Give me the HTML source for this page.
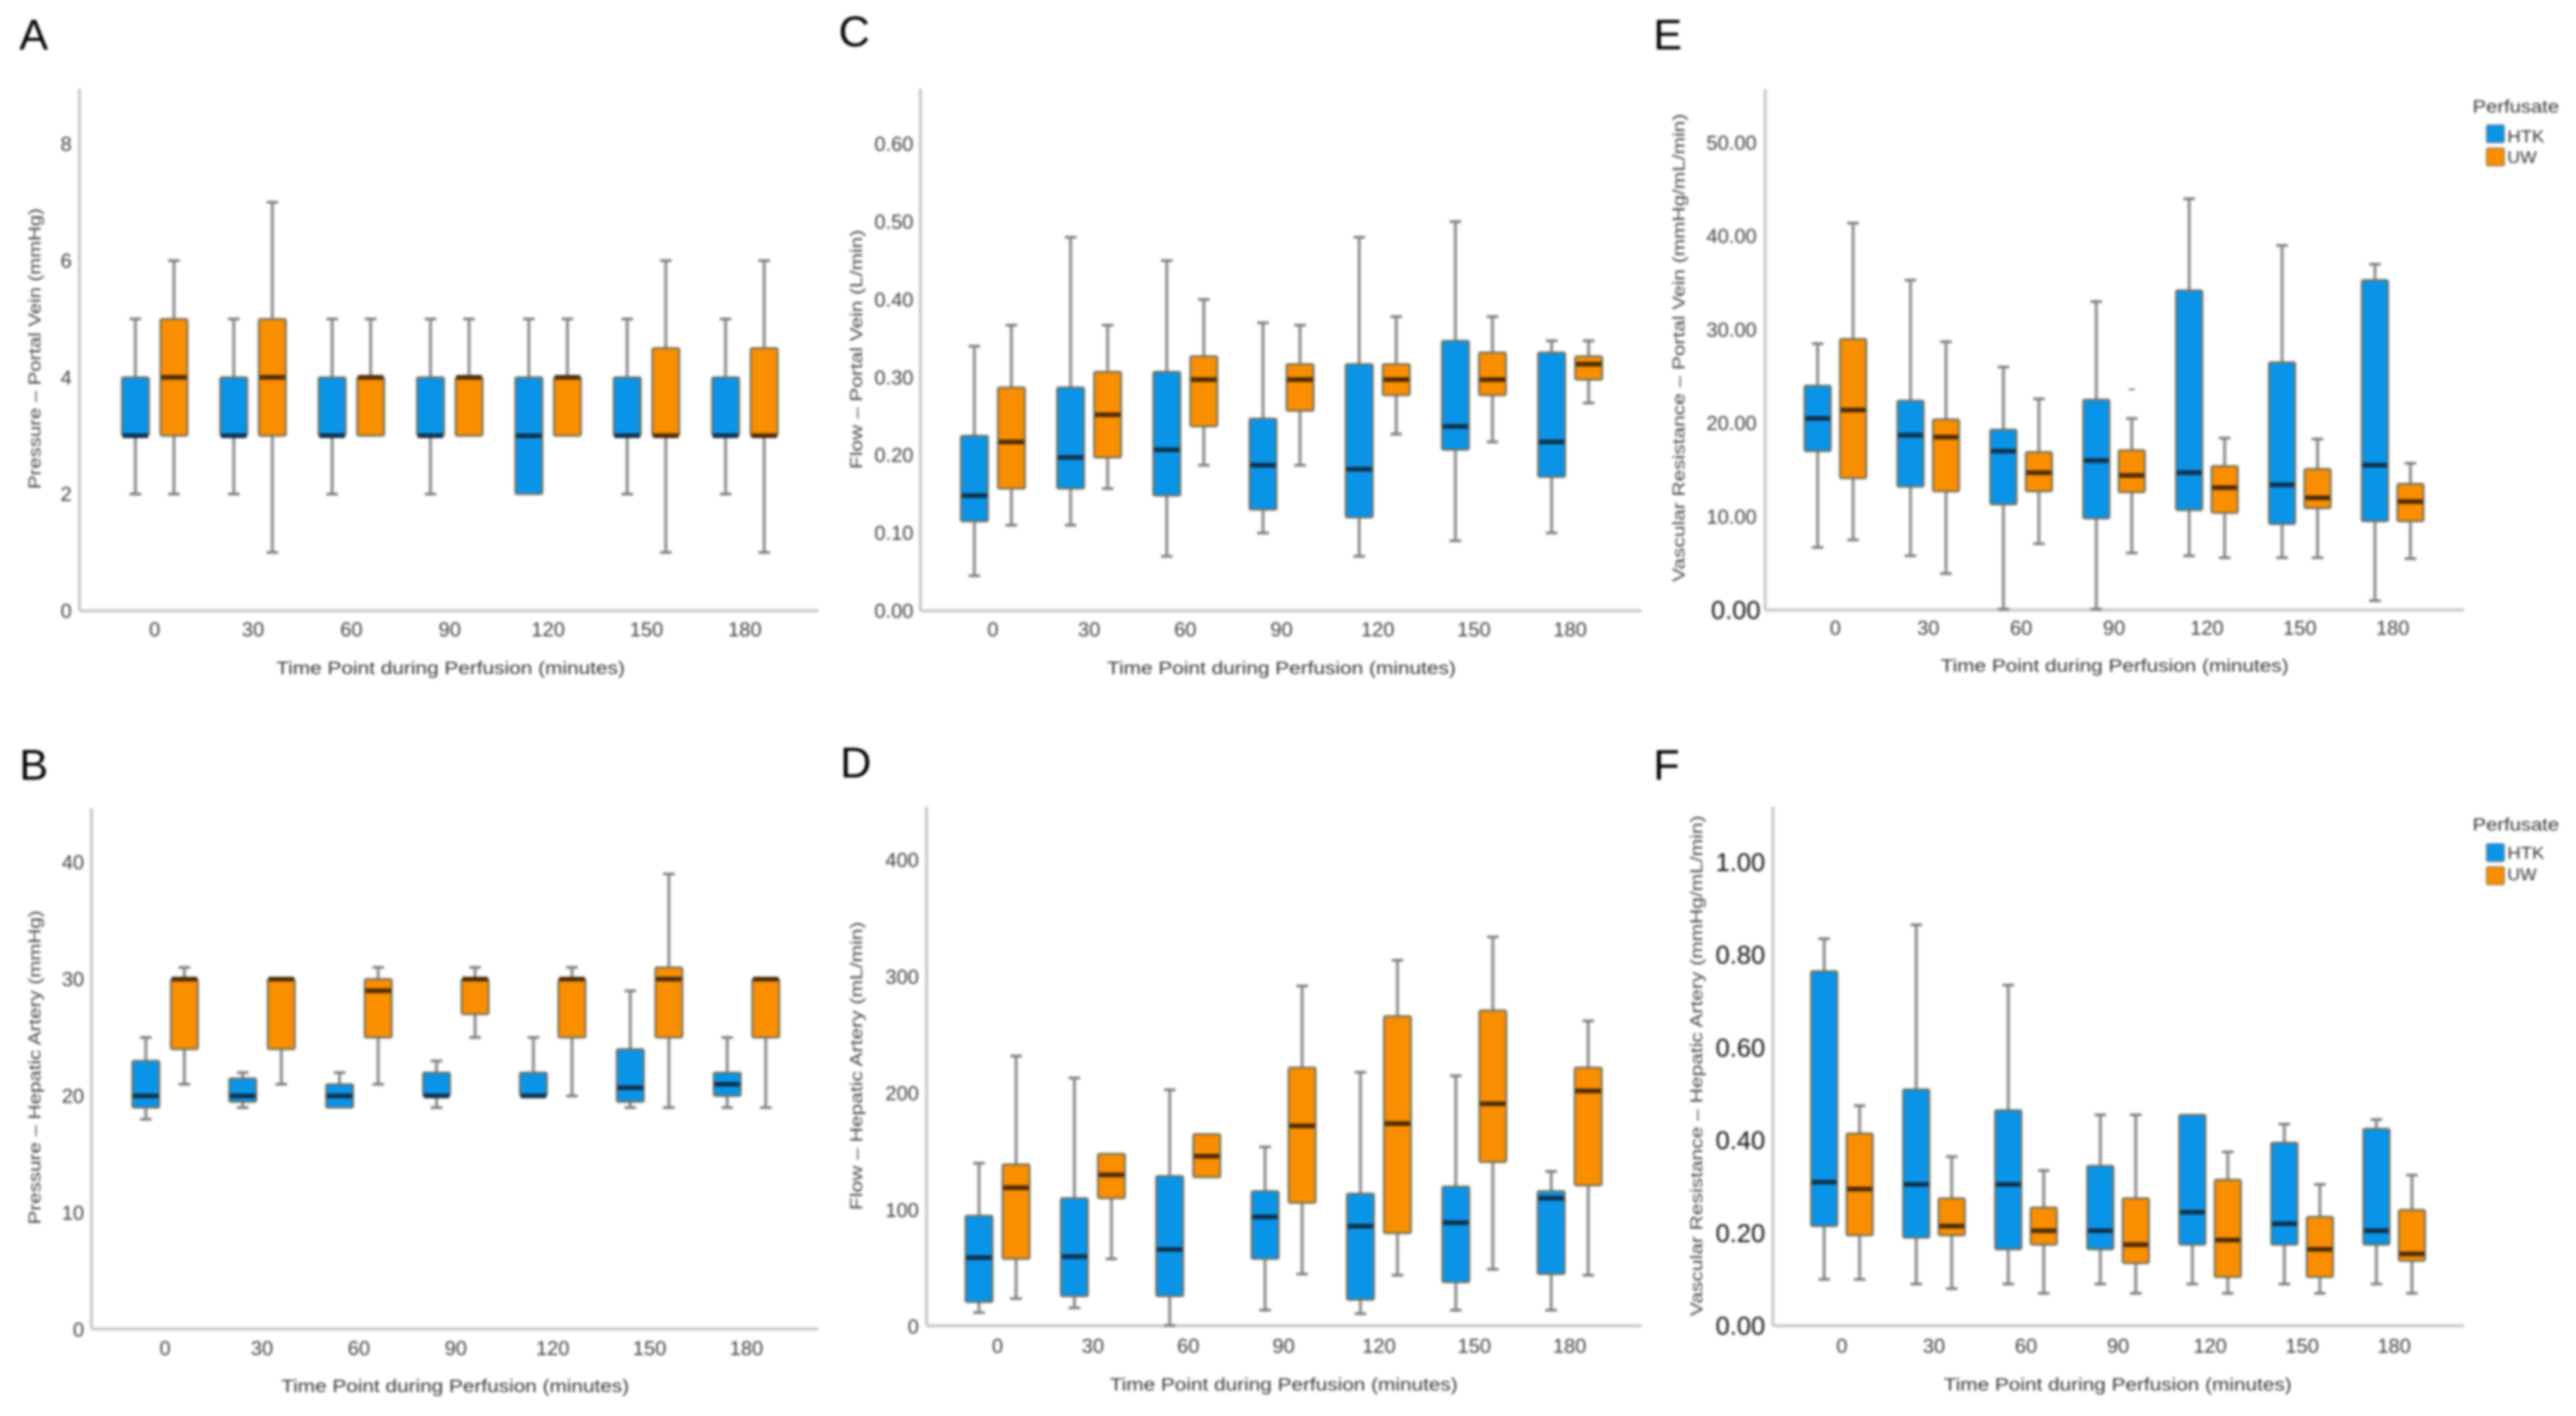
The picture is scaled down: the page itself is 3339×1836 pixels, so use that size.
<!DOCTYPE html>
<html lang="en">
<head>
<meta charset="utf-8">
<title>Perfusion box plots</title>
<style>
  html, body { margin: 0; padding: 0; background: #fff; width: 3339px; height: 1836px; overflow: hidden; }
  svg { display: block; filter: blur(1.7px); font-family: "Liberation Sans", sans-serif; }
  .letter { font-size: 56px; fill: #000; }
  .xt { font-size: 23px; fill: #333; text-anchor: middle; dominant-baseline: central; }
  .yt { font-size: 22px; fill: #444; text-anchor: middle; dominant-baseline: central; }
  .leg-title { font-size: 23px; fill: #333; dominant-baseline: central; }
  .leg-label { font-size: 22px; fill: #333; dominant-baseline: central; }
</style>
</head>
<body>
<svg id="figure" width="3339" height="1836" viewBox="0 0 3339 1836" xmlns="http://www.w3.org/2000/svg">
  <rect x="0" y="0" width="3339" height="1836" fill="#fff"/>

  <g id="panel-a">
    <text class="letter" x="25" y="64">A</text>
    <text class="yt" x="45" y="452" transform="rotate(-90 45 452)" textLength="364" lengthAdjust="spacingAndGlyphs">Pressure – Portal Vein (mmHg)</text>
    <text class="xt" x="584" y="866" textLength="452" lengthAdjust="spacingAndGlyphs">Time Point during Perfusion (minutes)</text>
  </g>

  <g id="panel-b">
    <text class="letter" x="25" y="1011">B</text>
    <text class="yt" x="45" y="1384" transform="rotate(-90 45 1384)" textLength="407" lengthAdjust="spacingAndGlyphs">Pressure – Hepatic Artery (mmHg)</text>
    <text class="xt" x="590" y="1797" textLength="451" lengthAdjust="spacingAndGlyphs">Time Point during Perfusion (minutes)</text>
  </g>

  <g id="panel-c">
    <text class="letter" x="1087" y="60">C</text>
    <text class="yt" x="1110" y="453" transform="rotate(-90 1110 453)" textLength="310" lengthAdjust="spacingAndGlyphs">Flow – Portal Vein (L/min)</text>
    <text class="xt" x="1661" y="866" textLength="452" lengthAdjust="spacingAndGlyphs">Time Point during Perfusion (minutes)</text>
  </g>

  <g id="panel-d">
    <text class="letter" x="1089" y="1008">D</text>
    <text class="yt" x="1110" y="1382" transform="rotate(-90 1110 1382)" textLength="374" lengthAdjust="spacingAndGlyphs">Flow – Hepatic Artery (mL/min)</text>
    <text class="xt" x="1664" y="1795" textLength="451" lengthAdjust="spacingAndGlyphs">Time Point during Perfusion (minutes)</text>
  </g>

  <g id="panel-e">
    <text class="letter" x="2143" y="64">E</text>
    <text class="yt" x="2176" y="451" transform="rotate(-90 2176 451)" textLength="607" lengthAdjust="spacingAndGlyphs">Vascular Resistance – Portal Vein (mmHg/mL/min)</text>
    <text class="xt" x="2741" y="863" textLength="451" lengthAdjust="spacingAndGlyphs">Time Point during Perfusion (minutes)</text>
    <g>
      <text class="leg-title" x="3205" y="138" textLength="112" lengthAdjust="spacingAndGlyphs">Perfusate</text>
      <rect x="3223" y="162" width="23" height="23" rx="2" fill="#0a94e8" stroke="#6f7f8a" stroke-width="1.5"/>
      <text class="leg-label" x="3250" y="177" textLength="48" lengthAdjust="spacingAndGlyphs">HTK</text>
      <rect x="3223" y="192" width="23" height="23" rx="2" fill="#f98e00" stroke="#8a7a60" stroke-width="1.5"/>
      <text class="leg-label" x="3250" y="204" textLength="38" lengthAdjust="spacingAndGlyphs">UW</text>
    </g>
  </g>

  <g id="panel-f">
    <text class="letter" x="2143" y="1011">F</text>
    <text class="yt" x="2199" y="1382" transform="rotate(-90 2199 1382)" textLength="649" lengthAdjust="spacingAndGlyphs">Vascular Resistance – Hepatic Artery (mmHg/mL/min)</text>
    <text class="xt" x="2745" y="1795" textLength="451" lengthAdjust="spacingAndGlyphs">Time Point during Perfusion (minutes)</text>
    <g>
      <text class="leg-title" x="3205" y="1069" textLength="112" lengthAdjust="spacingAndGlyphs">Perfusate</text>
      <rect x="3223" y="1094" width="23" height="23" rx="2" fill="#0a94e8" stroke="#6f7f8a" stroke-width="1.5"/>
      <text class="leg-label" x="3250" y="1106" textLength="48" lengthAdjust="spacingAndGlyphs">HTK</text>
      <rect x="3223" y="1124" width="23" height="23" rx="2" fill="#f98e00" stroke="#8a7a60" stroke-width="1.5"/>
      <text class="leg-label" x="3250" y="1134" textLength="38" lengthAdjust="spacingAndGlyphs">UW</text>
    </g>
  </g>
</svg>

<script>
// Shared category labels (time point, minutes)
const categories = ['0', '30', '60', '90', '120', '150', '180'];

// Each row: [whisker low, Q1, median, Q3, whisker high]
const aHTK = [[2,3,3,4,5],[2,3,3,4,5],[2,3,3,4,5],[2,3,3,4,5],[2,2,3,4,5],[2,3,3,4,5],[2,3,3,4,5]];
const aUW  = [[2,3,4,5,6],[1,3,4,5,7],[3,3,4,4,5],[3,3,4,4,5],[3,3,4,4,5],[1,3,3,4.5,6],[1,3,3,4.5,6]];
const aTicks = [0, 2, 4, 6, 8];

const bHTK = [[18,19,20,23,25],[19,19.5,20,21.5,22],[19,19,20,21,22],[19,20,20,22,23],[20,20,20,22,25],[19,19.5,20.7,24,29],[19,20,21,22,25]];
const bUW  = [[21,24,30,30,31],[21,24,30,30,30],[21,25,29,30,31],[25,27,30,30,31],[20,25,30,30,31],[19,25,30,31,39],[19,25,30,30,30]];
const bTicks = [0, 10, 20, 30, 40];

const cHTK = [[0.045,0.115,0.148,0.225,0.34],[0.11,0.157,0.197,0.287,0.48],[0.07,0.148,0.207,0.307,0.45],[0.10,0.13,0.187,0.247,0.37],[0.07,0.12,0.182,0.317,0.48],[0.09,0.207,0.237,0.347,0.50],[0.10,0.172,0.217,0.332,0.347]];
const cUW  = [[0.11,0.157,0.217,0.287,0.367],[0.157,0.197,0.252,0.307,0.367],[0.187,0.237,0.297,0.327,0.40],[0.187,0.257,0.297,0.317,0.367],[0.227,0.277,0.297,0.317,0.378],[0.217,0.277,0.297,0.332,0.378],[0.267,0.297,0.317,0.327,0.347]];
const cTicks = [0, 0.1, 0.2, 0.3, 0.4, 0.5, 0.6];

const dHTK = [[12,21,59,95,140],[16,26,60,110,213],[1,26,66,129,203],[14,58,94,116,154],[11,23,86,114,218],[14,38,89,120,215],[14,45,110,116,133]];
const dUW  = [[24,58,119,139,232],[58,110,130,148,148],[128,128,146,165,165],[45,106,172,222,292],[44,80,174,266,314],[49,141,191,271,334],[44,121,202,222,262]];
const dTicks = [0, 100, 200, 300, 400];

const eHTK = [[6.7,17,20.5,24,28.5],[5.8,13.2,18.7,22.4,35.3],[0.1,11.3,17,19.3,26],[0.1,9.8,16,22.5,33],[5.8,10.7,14.7,34.2,44],[5.6,9.2,13.4,26.5,39],[1,9.5,15.5,35.3,37]];
const eUW  = [[7.5,14.1,21.4,29,41.4],[3.9,12.7,18.5,20.4,28.7],[7.1,12.7,14.7,16.9,22.6],[6.1,12.6,14.4,17.1,20.5],[5.6,10.4,13.1,15.4,18.4],[5.6,10.9,12,15.1,18.3],[5.5,9.5,11.6,13.5,15.7]];
const eTicks = [0, 10, 20, 30, 40, 50];
// Lone faint outlier mark in panel E at the 90-minute UW series
const eOutlierCategory = [3];
const eOutlierValue = [23.6];

const fHTK = [[0.10,0.215,0.31,0.765,0.835],[0.09,0.19,0.305,0.51,0.865],[0.09,0.165,0.305,0.465,0.735],[0.09,0.165,0.205,0.345,0.455],[0.09,0.175,0.245,0.455,0.455],[0.09,0.175,0.22,0.395,0.435],[0.09,0.175,0.205,0.425,0.445]];
const fUW  = [[0.10,0.195,0.295,0.415,0.475],[0.08,0.195,0.215,0.275,0.365],[0.07,0.175,0.205,0.255,0.335],[0.07,0.135,0.175,0.275,0.455],[0.07,0.105,0.185,0.315,0.375],[0.07,0.105,0.165,0.235,0.305],[0.07,0.14,0.155,0.25,0.325]];
const fTicks = [0, 0.2, 0.4, 0.6, 0.8, 1.0];

const NS = 'http://www.w3.org/2000/svg';

function mk(parent, tag, attrs) {
  const el = document.createElementNS(NS, tag);
  for (const k in attrs) el.setAttribute(k, attrs[k]);
  parent.appendChild(el);
  return el;
}

function drawBox(g, row, cx, yScale, w, fill, medColor, stem) {
  const low = row[0], q1 = row[1], med = row[2], q3 = row[3], hi = row[4];
  const capW = 15;
  if (hi > q3) {
    const up = mk(g, 'line', { x1: cx, x2: cx, y1: yScale(q3), y2: yScale(hi), stroke: '#8e8e8e', 'stroke-width': 4 });
    
    
    const upCap = mk(g, 'line', { x1: cx - capW / 2, x2: cx + capW / 2, y1: yScale(hi), y2: yScale(hi), stroke: '#7d7d7d', 'stroke-width': 3.5 });
    
    
  }
  if (low < q1) {
    const dn = mk(g, 'line', { x1: cx, x2: cx, y1: yScale(q1), y2: yScale(low), stroke: '#8e8e8e', 'stroke-width': 4 });
    
    
    const dnCap = mk(g, 'line', { x1: cx - capW / 2, x2: cx + capW / 2, y1: yScale(low), y2: yScale(low), stroke: '#7d7d7d', 'stroke-width': 3.5 });
    
    
  }
  const box = mk(g, 'rect', { x: cx - w / 2, y: yScale(q3), width: w, height: yScale(q1) - yScale(q3), rx: 2, fill: fill, stroke: '#6f6f60', 'stroke-width': 2.5 });
  
  
  const m = mk(g, 'line', { x1: cx - w / 2 + 1, x2: cx + w / 2 - 1, y1: yScale(med), y2: yScale(med), stroke: medColor, 'stroke-width': 6 });
  
  
}

function drawPanel(id, key, htk, uw, ticks, cfg) {
  const g = document.getElementById(id);
  const yScale = v => cfg.y0 - (v - ticks[0]) * (cfg.y0 - cfg.yTickTop) / (ticks[ticks.length - 1] - ticks[0]);
  const xScale = i => cfg.x0 + i * cfg.step;

  const yAxis = mk(g, 'line', { x1: cfg.axisX, x2: cfg.axisX, y1: cfg.top, y2: cfg.base, stroke: '#c8c8c8', 'stroke-width': 4 });
  
  
  const xAxis = mk(g, 'line', { x1: cfg.axisX, x2: cfg.right, y1: cfg.base, y2: cfg.base, stroke: '#c8c8c8', 'stroke-width': 4 });
  
  

  ticks.forEach((t, i) => {
    const big = cfg.bigTicks === 'all' || (cfg.bigTicks === 'zero' && i === 0);
    const lab = mk(g, 'text', {
      x: big ? cfg.bigRight : cfg.labelRight,
      y: yScale(t) + (cfg.labelDy || 0),
      'text-anchor': 'end',
      'dominant-baseline': 'central',
      'font-size': big ? 33 : 26,
      fill: big ? '#111' : '#3c3c3c'
    });
    lab.textContent = t.toFixed(cfg.decimals);
    
    
  });

  categories.forEach((c, i) => {
    const lab = mk(g, 'text', { x: xScale(i), y: cfg.xLabelY, 'text-anchor': 'middle', 'dominant-baseline': 'central', 'font-size': 26, fill: '#3c3c3c' });
    lab.textContent = c;
    
    

    drawBox(g, htk[i], xScale(i) - cfg.half, yScale, cfg.boxW, '#0a94e8', '#102f49', 'htk-' + key + '-' + c);
    drawBox(g, uw[i], xScale(i) + cfg.half, yScale, cfg.boxW, '#f98e00', '#4a2a05', 'uw-' + key + '-' + c);
  });

  return { xScale, yScale, g, half: cfg.half };
}

drawPanel('panel-a', 'a', aHTK, aUW, aTicks, { axisX: 103, top: 115, base: 792, right: 1061, y0: 792, yTickTop: 186.5, x0: 200.5, step: 127.5, half: 25, boxW: 35, labelRight: 93, decimals: 0, xLabelY: 816 });
drawPanel('panel-b', 'b', bHTK, bUW, bTicks, { axisX: 118.5, top: 1048, base: 1723, right: 1061, y0: 1724, yTickTop: 1118, x0: 214, step: 125.6, half: 25, boxW: 35, labelRight: 109, decimals: 0, xLabelY: 1748 });
drawPanel('panel-c', 'c', cHTK, cUW, cTicks, { axisX: 1193, top: 115, base: 792, right: 2128, y0: 792, yTickTop: 186.5, x0: 1287, step: 124.7, half: 24, boxW: 35, labelRight: 1184, decimals: 2, xLabelY: 816 });
drawPanel('panel-d', 'd', dHTK, dUW, dTicks, { axisX: 1201, top: 1046, base: 1719, right: 2128, y0: 1720, yTickTop: 1115, x0: 1293, step: 123.6, half: 24, boxW: 35, labelRight: 1191, decimals: 0, xLabelY: 1745 });
const panelE = drawPanel('panel-e', 'e', eHTK, eUW, eTicks, { axisX: 2288, top: 115, base: 791, right: 3194, y0: 791, yTickTop: 185, x0: 2379, step: 120.4, half: 23, boxW: 34, labelRight: 2277, bigRight: 2282, bigTicks: 'zero', decimals: 2, xLabelY: 814 });
drawPanel('panel-f', 'f', fHTK, fUW, fTicks, { axisX: 2298, top: 1046, base: 1719, right: 3194, y0: 1719, yTickTop: 1118, x0: 2387.5, step: 119.3, half: 23, boxW: 34, labelRight: 2288, bigRight: 2288, bigTicks: 'all', decimals: 2, xLabelY: 1745 });

eOutlierValue.forEach((v, i) => {
  const cx = panelE.xScale(eOutlierCategory[i]) + panelE.half;
  const dash = mk(panelE.g, 'line', { x1: cx - 4, x2: cx + 4, y1: panelE.yScale(v), y2: panelE.yScale(v), stroke: '#888', 'stroke-width': 2.5 });
  
  
});
</script>
</body>
</html>
